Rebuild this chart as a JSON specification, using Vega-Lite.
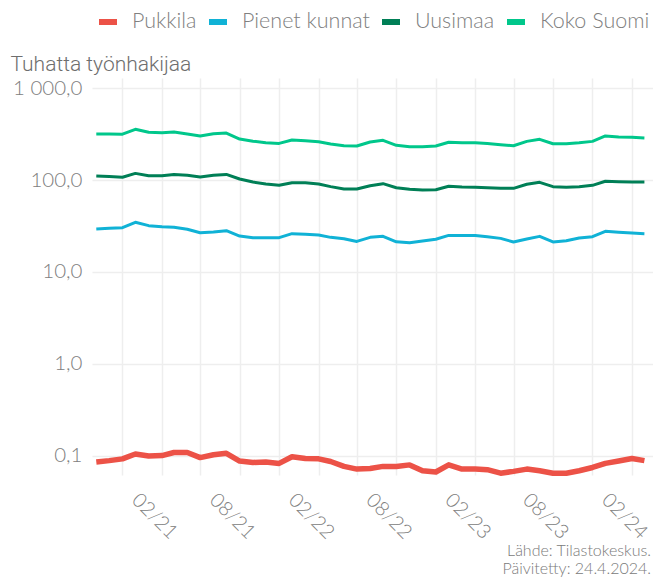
{
  "$schema": "https://vega.github.io/schema/vega-lite/v6.json",
  "width": 561,
  "height": 397,
  "autosize": {"type": "none"},
  "padding": {"left": 92, "top": 78, "right": 0, "bottom": 103},
  "background": "white",
  "config": {
    "view": {"stroke": null},
    "font": "Lato",
    "locale": {"number": {"decimal": ",", "thousands": " ", "grouping": [3], "currency": ["", " €"]}}
  },
  "title": {
    "text": ["Lähde: Tilastokeskus.", "Päivitetty: 24.4.2024."],
    "orient": "bottom",
    "anchor": "end",
    "frame": "group",
    "font": "Lato",
    "fontSize": 16,
    "fontWeight": 300,
    "color": "#7a7a7a",
    "lineHeight": 18.5,
    "offset": 0,
    "dx": -2
  },
  "data": {"values": [
    {"d":"2020-09-01","s":"Pukkila","v":0.086},{"d":"2020-10-01","s":"Pukkila","v":0.089},{"d":"2020-11-01","s":"Pukkila","v":0.093},{"d":"2020-12-01","s":"Pukkila","v":0.105},
    {"d":"2021-01-01","s":"Pukkila","v":0.100},{"d":"2021-02-01","s":"Pukkila","v":0.101},{"d":"2021-03-01","s":"Pukkila","v":0.109},{"d":"2021-04-01","s":"Pukkila","v":0.109},
    {"d":"2021-05-01","s":"Pukkila","v":0.096},{"d":"2021-06-01","s":"Pukkila","v":0.103},{"d":"2021-07-01","s":"Pukkila","v":0.107},{"d":"2021-08-01","s":"Pukkila","v":0.088},
    {"d":"2021-09-01","s":"Pukkila","v":0.085},{"d":"2021-10-01","s":"Pukkila","v":0.086},{"d":"2021-11-01","s":"Pukkila","v":0.083},{"d":"2021-12-01","s":"Pukkila","v":0.098},
    {"d":"2022-01-01","s":"Pukkila","v":0.094},{"d":"2022-02-01","s":"Pukkila","v":0.093},{"d":"2022-03-01","s":"Pukkila","v":0.087},{"d":"2022-04-01","s":"Pukkila","v":0.077},
    {"d":"2022-05-01","s":"Pukkila","v":0.072},{"d":"2022-06-01","s":"Pukkila","v":0.073},{"d":"2022-07-01","s":"Pukkila","v":0.077},{"d":"2022-08-01","s":"Pukkila","v":0.077},
    {"d":"2022-09-01","s":"Pukkila","v":0.080},{"d":"2022-10-01","s":"Pukkila","v":0.069},{"d":"2022-11-01","s":"Pukkila","v":0.067},{"d":"2022-12-01","s":"Pukkila","v":0.080},
    {"d":"2023-01-01","s":"Pukkila","v":0.072},{"d":"2023-02-01","s":"Pukkila","v":0.072},{"d":"2023-03-01","s":"Pukkila","v":0.071},{"d":"2023-04-01","s":"Pukkila","v":0.065},
    {"d":"2023-05-01","s":"Pukkila","v":0.068},{"d":"2023-06-01","s":"Pukkila","v":0.072},{"d":"2023-07-01","s":"Pukkila","v":0.069},{"d":"2023-08-01","s":"Pukkila","v":0.065},
    {"d":"2023-09-01","s":"Pukkila","v":0.065},{"d":"2023-10-01","s":"Pukkila","v":0.069},{"d":"2023-11-01","s":"Pukkila","v":0.075},{"d":"2023-12-01","s":"Pukkila","v":0.083},
    {"d":"2024-01-01","s":"Pukkila","v":0.088},{"d":"2024-02-01","s":"Pukkila","v":0.094},{"d":"2024-03-01","s":"Pukkila","v":0.089},

    {"d":"2020-09-01","s":"Pienet kunnat","v":29.3},{"d":"2020-10-01","s":"Pienet kunnat","v":29.8},{"d":"2020-11-01","s":"Pienet kunnat","v":30.3},{"d":"2020-12-01","s":"Pienet kunnat","v":34.7},
    {"d":"2021-01-01","s":"Pienet kunnat","v":31.9},{"d":"2021-02-01","s":"Pienet kunnat","v":31.0},{"d":"2021-03-01","s":"Pienet kunnat","v":30.6},{"d":"2021-04-01","s":"Pienet kunnat","v":29.1},
    {"d":"2021-05-01","s":"Pienet kunnat","v":26.7},{"d":"2021-06-01","s":"Pienet kunnat","v":27.2},{"d":"2021-07-01","s":"Pienet kunnat","v":28.1},{"d":"2021-08-01","s":"Pienet kunnat","v":24.6},
    {"d":"2021-09-01","s":"Pienet kunnat","v":23.6},{"d":"2021-10-01","s":"Pienet kunnat","v":23.6},{"d":"2021-11-01","s":"Pienet kunnat","v":23.6},{"d":"2021-12-01","s":"Pienet kunnat","v":26.1},
    {"d":"2022-01-01","s":"Pienet kunnat","v":25.7},{"d":"2022-02-01","s":"Pienet kunnat","v":25.2},{"d":"2022-03-01","s":"Pienet kunnat","v":23.8},{"d":"2022-04-01","s":"Pienet kunnat","v":23.0},
    {"d":"2022-05-01","s":"Pienet kunnat","v":21.5},{"d":"2022-06-01","s":"Pienet kunnat","v":23.8},{"d":"2022-07-01","s":"Pienet kunnat","v":24.4},{"d":"2022-08-01","s":"Pienet kunnat","v":21.3},
    {"d":"2022-09-01","s":"Pienet kunnat","v":20.8},{"d":"2022-10-01","s":"Pienet kunnat","v":21.7},{"d":"2022-11-01","s":"Pienet kunnat","v":22.7},{"d":"2022-12-01","s":"Pienet kunnat","v":25.0},
    {"d":"2023-01-01","s":"Pienet kunnat","v":25.0},{"d":"2023-02-01","s":"Pienet kunnat","v":25.0},{"d":"2023-03-01","s":"Pienet kunnat","v":24.2},{"d":"2023-04-01","s":"Pienet kunnat","v":23.2},
    {"d":"2023-05-01","s":"Pienet kunnat","v":21.2},{"d":"2023-06-01","s":"Pienet kunnat","v":22.8},{"d":"2023-07-01","s":"Pienet kunnat","v":24.4},{"d":"2023-08-01","s":"Pienet kunnat","v":21.2},
    {"d":"2023-09-01","s":"Pienet kunnat","v":21.9},{"d":"2023-10-01","s":"Pienet kunnat","v":23.4},{"d":"2023-11-01","s":"Pienet kunnat","v":24.2},{"d":"2023-12-01","s":"Pienet kunnat","v":27.7},
    {"d":"2024-01-01","s":"Pienet kunnat","v":27.0},{"d":"2024-02-01","s":"Pienet kunnat","v":26.5},{"d":"2024-03-01","s":"Pienet kunnat","v":26.1},

    {"d":"2020-09-01","s":"Uusimaa","v":110.5},{"d":"2020-10-01","s":"Uusimaa","v":109},{"d":"2020-11-01","s":"Uusimaa","v":107},{"d":"2020-12-01","s":"Uusimaa","v":118},
    {"d":"2021-01-01","s":"Uusimaa","v":111},{"d":"2021-02-01","s":"Uusimaa","v":111},{"d":"2021-03-01","s":"Uusimaa","v":115},{"d":"2021-04-01","s":"Uusimaa","v":112.5},
    {"d":"2021-05-01","s":"Uusimaa","v":108},{"d":"2021-06-01","s":"Uusimaa","v":112.5},{"d":"2021-07-01","s":"Uusimaa","v":115},{"d":"2021-08-01","s":"Uusimaa","v":102.5},
    {"d":"2021-09-01","s":"Uusimaa","v":95},{"d":"2021-10-01","s":"Uusimaa","v":90.5},{"d":"2021-11-01","s":"Uusimaa","v":87.5},{"d":"2021-12-01","s":"Uusimaa","v":93.5},
    {"d":"2022-01-01","s":"Uusimaa","v":93.5},{"d":"2022-02-01","s":"Uusimaa","v":90.5},{"d":"2022-03-01","s":"Uusimaa","v":84.7},{"d":"2022-04-01","s":"Uusimaa","v":79.8},
    {"d":"2022-05-01","s":"Uusimaa","v":79.8},{"d":"2022-06-01","s":"Uusimaa","v":86.7},{"d":"2022-07-01","s":"Uusimaa","v":91.2},{"d":"2022-08-01","s":"Uusimaa","v":82.5},
    {"d":"2022-09-01","s":"Uusimaa","v":79.2},{"d":"2022-10-01","s":"Uusimaa","v":77.8},{"d":"2022-11-01","s":"Uusimaa","v":78.5},{"d":"2022-12-01","s":"Uusimaa","v":85.5},
    {"d":"2023-01-01","s":"Uusimaa","v":84},{"d":"2023-02-01","s":"Uusimaa","v":83.3},{"d":"2023-03-01","s":"Uusimaa","v":82.5},{"d":"2023-04-01","s":"Uusimaa","v":81.2},
    {"d":"2023-05-01","s":"Uusimaa","v":81.2},{"d":"2023-06-01","s":"Uusimaa","v":89.8},{"d":"2023-07-01","s":"Uusimaa","v":94.4},{"d":"2023-08-01","s":"Uusimaa","v":84.7},
    {"d":"2023-09-01","s":"Uusimaa","v":83.3},{"d":"2023-10-01","s":"Uusimaa","v":84.7},{"d":"2023-11-01","s":"Uusimaa","v":87.5},{"d":"2023-12-01","s":"Uusimaa","v":96.8},
    {"d":"2024-01-01","s":"Uusimaa","v":95.9},{"d":"2024-02-01","s":"Uusimaa","v":95.1},{"d":"2024-03-01","s":"Uusimaa","v":95.1},

    {"d":"2020-09-01","s":"Koko Suomi","v":316},{"d":"2020-10-01","s":"Koko Suomi","v":316},{"d":"2020-11-01","s":"Koko Suomi","v":315},{"d":"2020-12-01","s":"Koko Suomi","v":356},
    {"d":"2021-01-01","s":"Koko Suomi","v":330},{"d":"2021-02-01","s":"Koko Suomi","v":327},{"d":"2021-03-01","s":"Koko Suomi","v":332},{"d":"2021-04-01","s":"Koko Suomi","v":316},
    {"d":"2021-05-01","s":"Koko Suomi","v":301},{"d":"2021-06-01","s":"Koko Suomi","v":319},{"d":"2021-07-01","s":"Koko Suomi","v":324},{"d":"2021-08-01","s":"Koko Suomi","v":279},
    {"d":"2021-09-01","s":"Koko Suomi","v":264},{"d":"2021-10-01","s":"Koko Suomi","v":254},{"d":"2021-11-01","s":"Koko Suomi","v":250},{"d":"2021-12-01","s":"Koko Suomi","v":272},
    {"d":"2022-01-01","s":"Koko Suomi","v":267},{"d":"2022-02-01","s":"Koko Suomi","v":261},{"d":"2022-03-01","s":"Koko Suomi","v":246},{"d":"2022-04-01","s":"Koko Suomi","v":236},
    {"d":"2022-05-01","s":"Koko Suomi","v":234},{"d":"2022-06-01","s":"Koko Suomi","v":259},{"d":"2022-07-01","s":"Koko Suomi","v":270},{"d":"2022-08-01","s":"Koko Suomi","v":238},
    {"d":"2022-09-01","s":"Koko Suomi","v":230},{"d":"2022-10-01","s":"Koko Suomi","v":230},{"d":"2022-11-01","s":"Koko Suomi","v":234},{"d":"2022-12-01","s":"Koko Suomi","v":257},
    {"d":"2023-01-01","s":"Koko Suomi","v":254},{"d":"2023-02-01","s":"Koko Suomi","v":254},{"d":"2023-03-01","s":"Koko Suomi","v":250},{"d":"2023-04-01","s":"Koko Suomi","v":242},
    {"d":"2023-05-01","s":"Koko Suomi","v":236},{"d":"2023-06-01","s":"Koko Suomi","v":263},{"d":"2023-07-01","s":"Koko Suomi","v":277},{"d":"2023-08-01","s":"Koko Suomi","v":248},
    {"d":"2023-09-01","s":"Koko Suomi","v":248},{"d":"2023-10-01","s":"Koko Suomi","v":254},{"d":"2023-11-01","s":"Koko Suomi","v":263},{"d":"2023-12-01","s":"Koko Suomi","v":301},
    {"d":"2024-01-01","s":"Koko Suomi","v":293},{"d":"2024-02-01","s":"Koko Suomi","v":291},{"d":"2024-03-01","s":"Koko Suomi","v":286}
  ]},
  "encoding": {
    "x": {
      "field": "d",
      "type": "temporal",
      "scale": {"type": "utc", "domain": [{"year": 2020, "month": 8, "date": 22, "utc": true}, {"year": 2024, "month": 3, "date": 21, "utc": true}]},
      "axis": {
        "values": [
          {"year": 2020, "month": 11, "date": 1, "utc": true},
          {"year": 2021, "month": 2, "date": 1, "utc": true},
          {"year": 2021, "month": 5, "date": 1, "utc": true},
          {"year": 2021, "month": 8, "date": 1, "utc": true},
          {"year": 2021, "month": 11, "date": 1, "utc": true},
          {"year": 2022, "month": 2, "date": 1, "utc": true},
          {"year": 2022, "month": 5, "date": 1, "utc": true},
          {"year": 2022, "month": 8, "date": 1, "utc": true},
          {"year": 2022, "month": 11, "date": 1, "utc": true},
          {"year": 2023, "month": 2, "date": 1, "utc": true},
          {"year": 2023, "month": 5, "date": 1, "utc": true},
          {"year": 2023, "month": 8, "date": 1, "utc": true},
          {"year": 2023, "month": 11, "date": 1, "utc": true},
          {"year": 2024, "month": 2, "date": 1, "utc": true}
        ],
        "labelExpr": "(utcmonth(datum.value) == 1 || utcmonth(datum.value) == 7) ? utcFormat(datum.value, '%m/%y') : ''",
        "labelAngle": 45,
        "labelAlign": "center",
        "labelBaseline": "middle",
        "labelPadding": 41,
        "labelOffset": -8,
        "labelFont": "Lato",
        "labelFontSize": 20,
        "labelFontWeight": 300,
        "labelColor": "#808080",
        "labelOverlap": false,
        "labelBound": false,
        "labelFlush": false,
        "ticks": false,
        "domain": false,
        "grid": true,
        "gridColor": "#eeeeee",
        "gridWidth": 1.5,
        "title": null
      }
    },
    "y": {
      "field": "v",
      "type": "quantitative",
      "scale": {"type": "log", "domain": [0.0621, 1285], "nice": false},
      "axis": {
        "values": [0.1, 1, 10, 100, 1000],
        "format": ",.1f",
        "labelFont": "Lato",
        "labelFontSize": 20.5,
        "labelFontWeight": 300,
        "labelColor": "#808080",
        "labelPadding": 10,
        "ticks": false,
        "domain": false,
        "grid": true,
        "gridColor": "#eeeeee",
        "gridWidth": 1.5,
        "title": "Tuhatta työnhakijaa",
        "titleAngle": 0,
        "titleAlign": "left",
        "titleBaseline": "alphabetic",
        "titleX": -82,
        "titleY": -8,
        "titleFont": "Roboto",
        "titleFontSize": 21,
        "titleFontWeight": 300,
        "titleColor": "#6e6e6e"
      }
    },
    "color": {
      "field": "s",
      "type": "nominal",
      "scale": {"domain": ["Pukkila", "Pienet kunnat", "Uusimaa", "Koko Suomi"], "range": ["#ec5247", "#10b2d6", "#007f56", "#00c78b"]},
      "legend": {
        "orient": "none",
        "legendX": 4,
        "legendY": -68,
        "direction": "horizontal",
        "title": null,
        "padding": 0,
        "symbolType": "stroke",
        "symbolStrokeWidth": 6,
        "symbolSize": 324,
        "labelFont": "Lato",
        "labelFontSize": 21.5,
        "labelFontWeight": 300,
        "labelColor": "#808080",
        "labelOffset": 12,
        "columnPadding": 0
      }
    }
  },
  "layer": [
    {
      "transform": [{"filter": "datum.s != 'Pukkila'"}],
      "mark": {"type": "line", "strokeWidth": 3, "strokeJoin": "round"}
    },
    {
      "transform": [{"filter": "datum.s == 'Pukkila'"}],
      "mark": {"type": "line", "strokeWidth": 5.5, "strokeJoin": "round"}
    }
  ]
}
